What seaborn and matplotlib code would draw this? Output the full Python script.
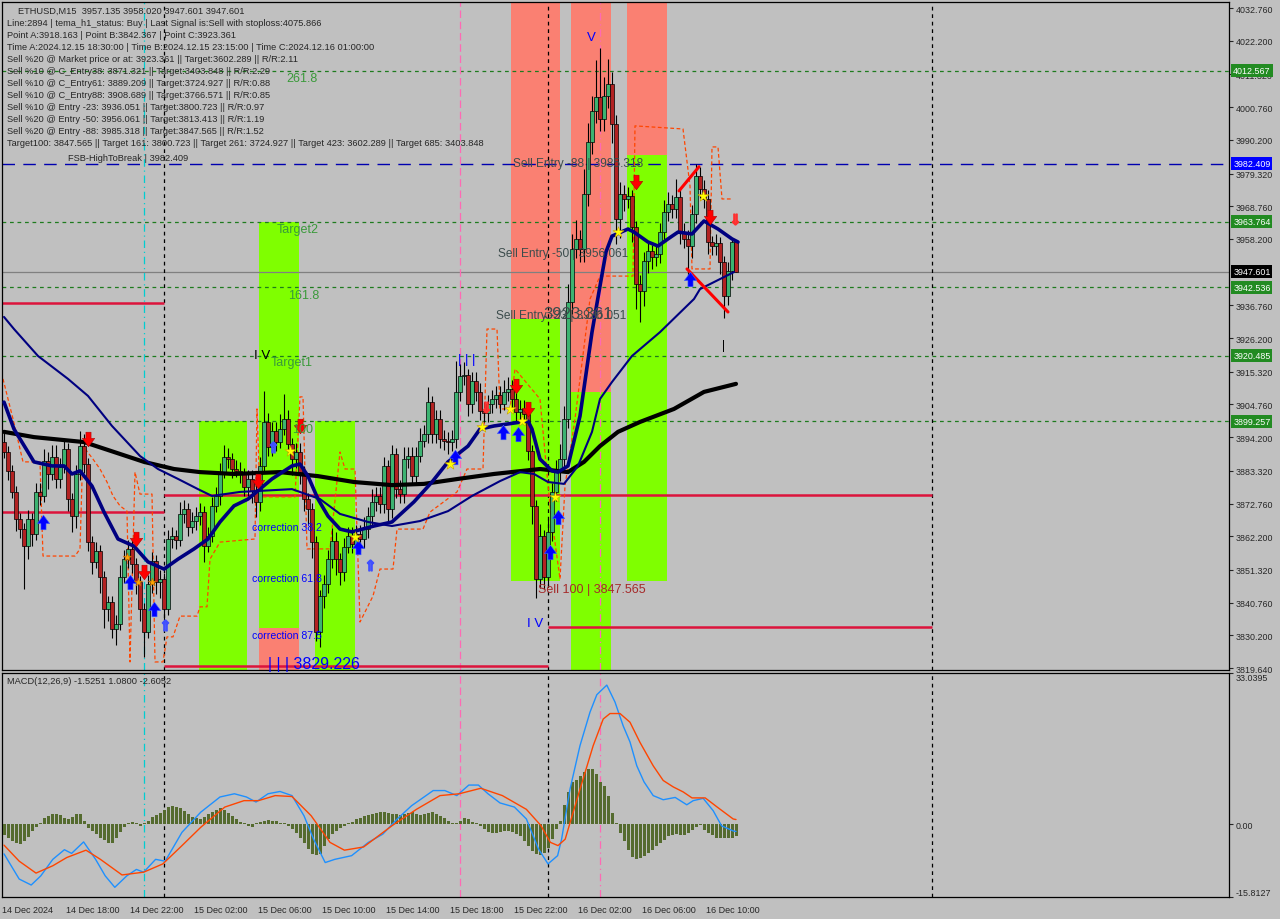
import numpy as np
import pandas as pd
import matplotlib
matplotlib.use("Agg")
import matplotlib.pyplot as plt
from matplotlib.patches import Rectangle
from matplotlib.path import Path
import seaborn as sns

sns.set_style("white")
plt.rcParams["font.family"] = ["Liberation Sans", "DejaVu Sans"]

BG = "#C0C0C0"

# ---------------- data ----------------
open0 = 3892.6
close = [3889.4, 3883.3, 3876.5, 3867.8, 3864.5, 3859.0, 3867.8, 3862.9, 3876.5, 3875.2,
         3886.5, 3882.3, 3887.8, 3880.7, 3884.6, 3890.4, 3874.2, 3868.7, 3882.3, 3891.3,
         3885.5, 3860.3, 3853.9, 3857.4, 3849.0, 3838.7, 3841.0, 3832.2, 3833.9, 3849.0,
         3854.8, 3858.1, 3853.2, 3847.4, 3838.7, 3831.3, 3846.8, 3854.2, 3847.4, 3848.4,
         3838.7, 3861.3, 3862.3, 3861.0, 3869.4, 3871.0, 3865.2, 3867.1, 3868.7, 3870.0,
         3859.0, 3862.3, 3872.0, 3875.2, 3882.9, 3887.8, 3887.1, 3883.9, 3883.3, 3882.3,
         3878.1, 3880.7, 3876.8, 3873.3, 3884.9, 3899.1, 3891.0, 3896.2, 3892.6, 3896.8,
         3900.1, 3892.0, 3887.1, 3889.4, 3882.9, 3874.2, 3871.0, 3860.3, 3831.3, 3842.9,
         3846.8, 3854.8, 3860.7, 3854.8, 3850.6, 3858.7, 3862.3, 3859.7, 3862.9, 3861.3,
         3864.5, 3868.7, 3873.3, 3875.2, 3872.6, 3884.9, 3871.0, 3888.8, 3877.5, 3875.8,
         3887.1, 3888.1, 3881.7, 3888.1, 3893.0, 3895.2, 3905.5, 3895.2, 3900.1, 3893.6,
         3893.0, 3892.6, 3893.6, 3908.8, 3913.9, 3914.3, 3904.9, 3912.3, 3908.8, 3902.6,
         3902.0, 3904.9, 3906.5, 3907.8, 3904.9, 3908.8, 3909.7, 3906.5, 3902.3, 3903.3,
         3901.7, 3889.7, 3872.0, 3848.4, 3862.3, 3849.0, 3863.6, 3876.5, 3882.9, 3887.1,
         3900.1, 3937.8, 3954.9, 3958.2, 3954.9, 3972.7, 3989.5, 3999.5, 4004.0, 3996.9,
         4004.4, 4008.2, 3995.3, 3964.6, 3972.7, 3971.1, 3972.1, 3962.1, 3943.6, 3941.4,
         3951.1, 3954.3, 3952.4, 3953.3, 3960.4, 3966.9, 3969.5, 3967.9, 3971.7, 3960.4,
         3958.2, 3955.9, 3966.3, 3978.5, 3974.3, 3971.1, 3957.2, 3955.9, 3956.9, 3950.8,
         3939.8, 3947.8, 3957.135, 3947.601]
wick_up = [3, 2, 2, 2, 2, 2, 3, 2, 3, 3, 4, 3, 4, 4, 3, 3, 2, 2, 3, 5,
           4, 2, 2, 3, 2, 2, 2, 2, 3, 4, 3, 3, 3, 2, 2, 2, 3, 3, 2, 3,
           2, 3, 3, 2, 4, 3, 2, 3, 3, 3, 2, 3, 3, 3, 3, 4, 3, 2, 3, 3,
           2, 3, 3, 2, 3, 10, 3, 3, 3, 5, 8, 3, 2, 3, 3, 2, 2, 2, 2, 2,
           3, 3, 4, 3, 2, 3, 3, 3, 3, 3, 4, 3, 4, 3, 3, 3, 2, 3, 2, 3,
           4, 3, 3, 3, 4, 3, 5, 2, 3, 3, 3, 3, 3, 10, 4, 4, 2, 3, 3, 3,
           3, 3, 3, 3, 3, 4, 4, 3, 3, 3, 3, 2, 2, 2, 4, 2, 4, 3, 4, 5,
           4, 6, 5, 6, 3, 8, 6, 5, 12, 16, 6, 8, 4, 3, 4, 3, 3, 2, 2, 3,
           3, 3, 2, 3, 3, 4, 4, 3, 6, 3, 3, 3, 3, 4, 3, 3, 3, 2, 3, 2,
           2, 3, 0.8, 0.4]
wick_dn = [2, 3, 2, 4, 3, 14, 4, 4, 2, 3, 2, 5, 2, 3, 3, 2, 4, 5, 4, 2,
           3, 3, 4, 2, 5, 6, 4, 3, 5, 2, 2, 3, 3, 4, 4, 8, 2, 3, 4, 5,
           5, 2, 3, 3, 2, 3, 3, 2, 3, 3, 5, 2, 2, 2, 3, 2, 3, 3, 2, 3,
           3, 3, 4, 5, 3, 2, 3, 3, 3, 2, 2, 3, 5, 3, 4, 4, 5, 5, 3, 5,
           4, 3, 3, 5, 4, 3, 2, 3, 3, 4, 3, 3, 3, 3, 3, 3, 4, 3, 3, 3,
           3, 3, 3, 3, 2, 2, 3, 3, 3, 3, 3, 4, 3, 3, 3, 3, 4, 3, 3, 3,
           3, 3, 3, 3, 3, 2, 3, 3, 3, 3, 3, 3, 6, 6, 3, 4, 3, 3, 3, 3,
           3, 3, 4, 3, 4, 4, 4, 4, 4, 4, 4, 4, 6, 8, 6, 4, 3, 5, 8, 10,
           5, 4, 4, 3, 3, 3, 3, 3, 3, 4, 3, 10, 4, 3, 3, 3, 4, 3, 3, 4,
           7, 3, 3, 0]

fast_i = [0, 2.5, 7.5, 12, 15, 17, 19, 22, 25, 28.5, 32.5, 36, 40, 43.5, 47.5, 51, 54, 57.5, 61, 67,
          72, 74, 76, 78.5, 81, 84, 87, 92.5, 97, 102.5, 107, 111, 116, 119, 122.5, 131, 132, 134, 137, 138.5,
          141, 144, 147, 149, 150.5, 152, 156, 157.5, 161, 163.5, 166, 168.5, 172, 175, 178.5, 182, 183.5]
fast_v = [3905.5, 3896.8, 3886.2, 3884.9, 3884.9, 3882.3, 3883.3, 3878.4, 3870.0, 3861.3,
          3859.0, 3853.9, 3851.6, 3854.8, 3858.1, 3861.3, 3866.8, 3872.0, 3874.2, 3880.7,
          3884.9, 3885.5, 3881.6, 3874.2, 3868.7, 3864.5, 3863.6, 3865.5, 3866.8, 3873.3,
          3879.7, 3886.2, 3891.3, 3896.8, 3897.8, 3899.4, 3896.8, 3887.1, 3883.3, 3882.9,
          3884.9, 3901.0, 3928.1, 3943.0, 3954.0, 3959.1, 3961.4, 3960.4, 3957.2, 3955.9,
          3958.2, 3960.4, 3959.8, 3964.0, 3961.4, 3958.2, 3957.2]
mid_i = [0, 2.5, 8.5, 16, 21, 27, 34, 38.5, 43.5, 48.5, 52, 59, 72, 79, 84, 91, 97, 104, 111, 117,
         124, 129, 132.5, 136, 140, 143.5, 147, 149, 152, 157, 164, 172.5, 174, 182.5]
mid_v = [3933.0, 3929.1, 3920.4, 3913.0, 3907.5, 3897.8, 3888.1, 3883.9, 3880.7, 3877.4,
         3875.2, 3876.5, 3877.4, 3874.2, 3869.4, 3866.8, 3865.5, 3867.1, 3870.3, 3875.2,
         3880.0, 3882.9, 3882.3, 3879.7, 3879.1, 3884.9, 3895.9, 3906.5, 3912.0, 3920.4,
         3928.1, 3938.8, 3942.0, 3947.5]
slow_i = [0, 7.5, 20, 27.5, 35, 42.5, 49, 57.5, 69, 78.5, 87.5, 97, 105, 113.5, 122.5, 134,
          141, 145, 149, 153.5, 159, 167.5, 175, 183]
slow_v = [3895.9, 3894.2, 3892.6, 3889.4, 3886.2, 3883.9, 3882.9, 3882.3, 3882.9, 3881.6,
          3879.7, 3878.7, 3879.1, 3880.7, 3882.3, 3883.9, 3882.9, 3886.2, 3891.3, 3895.9,
          3899.1, 3903.3, 3908.8, 3911.4]
orange_i = [-0.25, 2.25, 4.75, 9, 9.75, 17.75, 19, 19.75, 22.25, 24, 25.75, 27.25, 29, 30.75, 31.5,
            32.75, 34, 37, 37.75, 39.75, 40.75, 42.25, 44, 48.25, 49, 50.75, 51.5, 54, 62.75, 63.25,
            64, 72.75, 74, 74.75, 75.75, 81.5, 84, 85.25, 87.75, 89, 92.25, 94, 97.25, 98.25, 104.75,
            106.5, 113.25, 115.75, 119.75, 120.75, 123.25, 124, 126.5, 127.75, 134, 136.5, 139,
            140.25, 142.75, 146.5, 149, 157.25, 157.75, 169.75, 171.5, 172, 176.5, 177, 178.5,
            179.5, 182]
orange_v = [3913.0, 3900.1, 3886.2, 3886.2, 3855.8, 3855.8, 3858.1, 3891.3, 3887.1, 3883.9,
            3879.7, 3875.2, 3872.0, 3870.3, 3821.6, 3882.9, 3875.8, 3875.8, 3821.6, 3821.6,
            3829.7, 3829.7, 3836.4, 3836.4, 3839.4, 3839.4, 3854.8, 3860.3, 3861.3, 3903.3,
            3874.9, 3874.9, 3907.2, 3907.2, 3858.1, 3858.1, 3889.4, 3883.9, 3883.9, 3834.5,
            3842.9, 3851.6, 3851.6, 3864.5, 3864.5, 3870.0, 3876.5, 3883.9, 3883.9, 3929.1,
            3929.1, 3903.3, 3903.3, 3916.2, 3906.5, 3872.0, 3848.4, 3878.4, 3900.1, 3938.8,
            3946.2, 3946.2, 3994.7, 3993.7, 3975.3, 3948.5, 3948.5, 3987.9, 3987.9, 3971.1,
            3971.1]

hist = [-2.33, -3.05, -3.64, -4.00, -4.22, -3.64, -2.76, -1.45, -0.58, 0.36,
        1.31, 1.82, 2.18, 2.33, 2.04, 1.45, 1.09, 1.60, 2.18, 2.18,
        0.87, -0.73, -1.45, -2.18, -2.91, -3.49, -4.00, -4.00, -2.91, -1.60,
        -0.58, 0.22, 0.44, 0.36, -0.36, 0.36, 0.87, 1.60, 2.04, 2.54,
        3.27, 3.78, 4.07, 3.78, 3.49, 2.91, 2.18, 1.60, 1.31, 1.09,
        1.60, 2.18, 2.76, 3.27, 3.49, 3.27, 2.54, 1.82, 1.09, 0.58,
        0.22, -0.36, -0.58, 0.22, 0.58, 0.87, 1.02, 0.87, 0.73, 0.36,
        0.22, -0.36, -1.09, -1.82, -2.91, -4.00, -5.45, -6.40, -6.69, -6.40,
        -4.73, -3.27, -2.18, -1.31, -0.73, -0.22, 0.22, 0.58, 1.09, 1.45,
        1.82, 2.04, 2.33, 2.54, 2.76, 2.76, 2.54, 2.33, 2.18, 2.04,
        2.18, 2.54, 2.76, 2.33, 2.04, 2.18, 2.54, 2.76, 2.33, 1.82,
        1.31, 0.73, 0.36, 0.22, 0.87, 1.31, 1.09, 0.58, 0.22, -0.36,
        -1.09, -1.60, -1.82, -1.82, -1.60, -1.45, -1.45, -1.60, -2.04, -2.54,
        -3.64, -4.73, -5.82, -6.54, -6.69, -6.18, -5.09, -3.27, -1.09, 0.87,
        4.36, 7.12, 9.16, 9.60, 10.47, 11.49, 12.00, 12.00, 11.12, 9.31,
        8.29, 6.25, 2.40, 0.22, -1.75, -3.50, -5.50, -7.00, -7.60, -7.30,
        -6.90, -6.20, -5.50, -4.70, -4.00, -3.30, -2.60, -2.20, -2.00, -2.20,
        -2.20, -1.80, -1.10, -0.60, -0.20, -1.30, -1.80, -2.20, -2.90, -2.90,
        -2.90, -2.90, -2.90, -2.6052]
macd_i = [0, 3.8, 6.8, 9.2, 12.2, 15.1, 16.9, 19.9, 22.9, 25.3, 27.7, 30.7, 33.1, 34.9, 37.9, 40.3,
          44.5, 49.2, 54, 57.6, 60.6, 63, 66, 69, 72, 75, 77.4, 80.3, 82.7, 86.9, 91.1, 94.7, 98.3,
          101.9, 107.3, 110.2, 113.2, 116.2, 118.6, 121, 124, 127.6, 130.6, 133.6, 136, 138.4, 139.4,
          141.5, 144, 146.5, 148.2, 150.7, 152.75, 154.8, 156.5, 158.2, 160, 162.3, 164.8, 167.8,
          170.7, 172.3, 174.8, 177.3, 179.4, 182.3, 183]
macd_v = [-6.4, -11.9, -13.2, -11.2, -7.6, -5.5, -6.3, -3.8, -7.6, -11.2, -13.7, -11.2, -9.8, -10.4,
          -7.6, -8.0, -1.7, 2.7, 6.0, 6.7, 6.0, 4.9, 6.7, 7.2, 6.3, 1.9, -3.2, -8.3, -7.6, -6.8, -3.9,
          -2.1, 1.2, 4.1, 7.4, 7.4, 6.3, 8.6, 8.6, 6.7, 4.7, 3.8, 1.2, -5.3, -8.6, -6.8, -3.2,
          7.7, 17.2, 24.5, 28.3, 30.4, 26.7, 21.5, 18.0, 12.8, 9.3, 6.3, 5.4, 5.9,
          4.3, 5.2, 5.7, 3.0, -0.3, -1.4, -1.5251]
sig_i = [0, 3.8, 8, 12.2, 15.7, 20.5, 24.1, 29.5, 34.9, 39.7, 44.5, 49.2, 55.2, 60, 63.6, 67.8, 72,
         76.8, 81.5, 85.1, 89.9, 97.1, 103.1, 109, 113.8, 119.2, 124.6, 130.6, 134.2, 136.6, 138.5,
         140.3, 144, 147.3, 149.8, 151.5, 154, 156.5, 159, 162.3, 164.8, 167.3, 169.8, 172, 175.3,
         178.3, 182.3, 183]
sig_v = [-4.5, -8.0, -10.6, -9.0, -7.2, -5.6, -7.6, -11.0, -10.4, -8.6, -4.6, -0.6, 3.8, 5.2, 5.2,
         6.3, 6.1, 1.9, -3.9, -5.6, -4.9, -0.2, 3.3, 6.3, 6.7, 7.9, 6.3, 3.3, -0.2, -3.9, -4.6,
         -3.2, 7.7, 17.2, 23.0, 24.2, 24.2, 22.3, 17.9, 12.8, 9.6, 8.2, 7.1, 5.8, 5.8,
         3.8, 1.2, 1.08]

sell_arrow_i = [21, 33, 35, 63.5, 74, 128, 131, 158, 176.5]
sell_arrow_p = [3893.6, 3861.3, 3850.6, 3880.0, 3897.8, 3910.7, 3903.3, 3976.6, 3965.3]
buy_arrow_i = [9.75, 31.5, 37.5, 88.5, 112.75, 124.75, 128.5, 136.5, 138.5, 171.5]
buy_arrow_p = [3866.8, 3847.4, 3838.7, 3858.7, 3887.8, 3895.9, 3895.2, 3857.1, 3868.4, 3945.3]
star_i = [71.5, 87.75, 111.5, 119.5, 126.5, 129.5, 137.75, 153.5, 174.75]
star_p = [3889.7, 3861.9, 3885.5, 3897.5, 3903.3, 3899.4, 3874.9, 3960.4, 3972.1]
ostar_i = [30.75, 33.5, 37]
ostar_p = [3855.4, 3847.4, 3847.4]

level_green = [4012.567, 3963.764, 3942.536, 3920.485, 3899.257]
level_fsb = 3982.409
last_price = 3947.601
red_levels = [(-0.5, 40, 3937.5), (-0.5, 40, 3870.0), (40, 232, 3875.5),
              (40, 136, 3820.3), (136, 232, 3832.9)]

price_ticks = [4032.760, 4022.200, 4011.320, 4000.760, 3990.200, 3979.320, 3968.760, 3958.200,
               3936.760, 3926.200, 3915.320, 3904.760, 3894.200, 3883.320, 3872.760, 3862.200,
               3851.320, 3840.760, 3830.200, 3819.640]
time_labels = ["14 Dec 2024", "14 Dec 18:00", "14 Dec 22:00", "15 Dec 02:00", "15 Dec 06:00",
               "15 Dec 10:00", "15 Dec 14:00", "15 Dec 18:00", "15 Dec 22:00", "16 Dec 02:00",
               "16 Dec 06:00", "16 Dec 10:00"]

info_lines = [
    "Line:2894 | tema_h1_status: Buy | Last Signal is:Sell with stoploss:4075.866",
    "Point A:3918.163 | Point B:3842.367 | Point C:3923.361",
    "Time A:2024.12.15 18:30:00 | Time B:2024.12.15 23:15:00 | Time C:2024.12.16 01:00:00",
    "Sell %20 @ Market price or at: 3923.361 || Target:3602.289 || R/R:2.11",
    "Sell %10 @ C_Entry38: 3871.321 || Target:3403.848 || R/R:2.29",
    "Sell %10 @ C_Entry61: 3889.209 || Target:3724.927 || R/R:0.88",
    "Sell %10 @ C_Entry88: 3908.689 || Target:3766.571 || R/R:0.85",
    "Sell %10 @ Entry -23: 3936.051 || Target:3800.723 || R/R:0.97",
    "Sell %20 @ Entry -50: 3956.061 || Target:3813.413 || R/R:1.19",
    "Sell %20 @ Entry -88: 3985.318 || Target:3847.565 || R/R:1.52",
    "Target100: 3847.565 || Target 161: 3800.723 || Target 261: 3724.927 || Target 423: 3602.289 || Target 685: 3403.848",
]

# ---------------- figure ----------------
W, H = 1280, 920
fig = plt.figure(figsize=(12.8, 9.2), dpi=100, facecolor=BG)
ax = fig.add_axes([2 / W, 1 - 671 / H, 1227 / W, 668 / H], facecolor=BG)
ax2 = fig.add_axes([2 / W, 1 - 898 / H, 1227 / W, 224 / H], facecolor=BG)
XMIN, XMAX = -0.5, 306.25
YMIN, YMAX = 3819.0, 4034.7
ax.set_xlim(XMIN, XMAX)
ax.set_ylim(YMIN, YMAX)
ax2.set_xlim(XMIN, XMAX)
ax2.set_ylim(-15.8127, 33.0395)

n = len(close)
idx = np.arange(n)
c = np.array(close)
o = np.array([open0] + close[:-1])
hi = np.maximum(o, c) + np.array(wick_up)
lo = np.minimum(o, c) - np.array(wick_dn)

GREEN_BAND = "#7FFF00"
SALMON = "#FA8072"
bands = [
    (48.75, 60.75, 3899.3, YMIN, GREEN_BAND),
    (63.75, 73.75, 3963.8, 3832.6, GREEN_BAND),
    (63.75, 73.75, 3832.6, YMIN, SALMON),
    (77.75, 87.75, 3899.3, YMIN, GREEN_BAND),
    (126.75, 139.0, YMAX, 3932.3, SALMON),
    (126.75, 139.0, 3932.3, 3847.6, GREEN_BAND),
    (141.75, 151.75, YMAX, 3908.8, SALMON),
    (141.75, 151.75, 3908.8, YMIN, GREEN_BAND),
    (155.75, 165.75, YMAX, 3985.3, SALMON),
    (155.75, 165.75, 3985.3, 3847.6, GREEN_BAND),
]
for x0, x1, ytop, ybot, col in bands:
    ax.add_patch(Rectangle((x0, ybot), x1 - x0, ytop - ybot, facecolor=col, edgecolor="none", zorder=0.5))

# horizontal levels
for lv in level_green:
    ax.axhline(lv, color="#1E7B1E", lw=0.9, ls=(0, (3, 3)), zorder=1)
ax.axhline(level_fsb, color="#0000B0", lw=1.0, ls=(0, (9, 6)), zorder=1)
ax.axhline(last_price, color="#808080", lw=0.9, zorder=1)
for x0, x1, lv in red_levels:
    ax.hlines(lv, x0, x1, color="#DC143C", lw=1.8, zorder=1.2)

# vertical lines
for a in (ax, ax2):
    a.axvline(35, color="#00CED1", lw=0.9, ls=(0, (6, 3, 1, 3)), zorder=1)
    a.axvline(40, color="black", lw=0.9, ls=(0, (3, 3)), zorder=1)
    a.axvline(114, color="#FF69B4", lw=0.9, ls=(0, (6, 3)), zorder=1)
    a.axvline(136, color="black", lw=0.9, ls=(0, (3, 3)), zorder=1)
    a.axvline(149, color="#FF69B4", lw=0.9, ls=(0, (6, 3, 1, 3)), zorder=1)
    a.axvline(232, color="black", lw=0.9, ls=(0, (3, 3)), zorder=1)

# orange dashed trailing line
sns.lineplot(x=orange_i, y=orange_v, ax=ax, color="#FF4500", lw=0.9, estimator=None,
             sort=False, legend=False, zorder=2)
ax.lines[-1].set_linestyle((0, (3, 2)))

# candles
ax.vlines(idx, lo, hi, color="black", lw=0.8, zorder=3)
up = c >= o
body_h = np.maximum(np.abs(c - o), 0.35)
ax.bar(idx, body_h, bottom=np.minimum(o, c), width=0.78,
       color=np.where(up, "#3CB371", "#B22222"), edgecolor="black", linewidth=0.5, zorder=4)

# moving averages
sns.lineplot(x=slow_i, y=slow_v, ax=ax, color="black", lw=3.0, estimator=None, legend=False, zorder=5)
sns.lineplot(x=mid_i, y=mid_v, ax=ax, color="#000080", lw=1.5, estimator=None, legend=False, zorder=5)
sns.lineplot(x=fast_i, y=fast_v, ax=ax, color="#000080", lw=2.6, estimator=None, legend=False, zorder=5)

# red pattern lines
ax.plot([168.75, 173.75], [3973.7, 3981.5], color="red", lw=2.2, zorder=5.5)
ax.plot([170.75, 181.0], [3948.5, 3934.6], color="red", lw=2.2, zorder=5.5)

# arrows / markers
down_arrow = Path([(-0.35, 1), (0.35, 1), (0.35, 0.15), (0.85, 0.15), (0, -1), (-0.85, 0.15),
                   (-0.35, 0.15), (-0.35, 1)], closed=True)
up_arrow = Path([(-0.35, -1), (0.35, -1), (0.35, -0.15), (0.85, -0.15), (0, 1), (-0.85, -0.15),
                 (-0.35, -0.15), (-0.35, -1)], closed=True)
ax.scatter(sell_arrow_i, sell_arrow_p, marker=down_arrow, s=110, color="#FF0000", edgecolor="#B00000",
           linewidth=0.4, zorder=6)
ax.scatter(buy_arrow_i, buy_arrow_p, marker=up_arrow, s=110, color="#0000FF", edgecolor="#4060FF",
           linewidth=0.4, zorder=6)
ax.scatter(star_i, star_p, marker="*", s=70, color="#FFFF00", edgecolor="#C8A000", linewidth=0.4, zorder=6)
ax.scatter(ostar_i, ostar_p, marker="*", s=40, color="#FFA500", edgecolor="#C06000", linewidth=0.4, zorder=6)
ax.scatter([40.25, 91.5, 67.25], [3833.5, 3852.9, 3891.0], marker=r"$\Uparrow$", s=60, color="#4050FF",
           zorder=6)
ax.scatter([120.5, 182.75], [3903.9, 3964.6], marker=r"$\Downarrow$", s=60, color="#FF3030", zorder=6)

# chart texts
txt_green = "#3A9A3A"
for s, xi, yp in [("261.8", 70.5, 4010.2), ("Target2", 68.25, 3961.4), ("161.8", 71, 3940.1),
                  ("Target1", 66.75, 3918.5), ("100", 72.0, 3896.8)]:
    ax.text(xi, yp, s, color=txt_green, fontsize=9, va="center", ha="left", zorder=7)
ax.text(62.5, 3920.7, "I V", color="black", fontsize=9.5, va="center", ha="left", zorder=7)
grey_t = "#3C4C4C"
ax.text(127.25, 3982.7, "Sell Entry -88 | 3985.318", color=grey_t, fontsize=8.6, va="center", ha="left", zorder=7)
ax.text(123.5, 3953.7, "Sell Entry -50 | 3956.061", color=grey_t, fontsize=8.6, va="center", ha="left", zorder=7)
ax.text(123.0, 3933.6, "Sell Entry -23 | 3936.051", color=grey_t, fontsize=8.6, va="center", ha="left", zorder=7)
ax.text(134.75, 3934.2, "3923.361", color=grey_t, fontsize=12, va="center", ha="left", zorder=7)
ax.text(133.5, 3845.2, "Sell 100 | 3847.565", color="#A52A2A", fontsize=9, va="center", ha="left", zorder=7)
for s, yp in [("correction 38.2", 3865.2), ("correction 61.8", 3848.7), ("correction 87.5", 3830.3)]:
    ax.text(62.0, yp, s, color="#0000FF", fontsize=7.6, va="center", ha="left", zorder=7)
ax.text(66.0, 3821.2, "| | | 3829.226", color="#0000FF", fontsize=11.5, va="center", ha="left", zorder=7)
ax.text(145.75, 4023.4, "V", color="#0000FF", fontsize=9.5, va="center", ha="left", zorder=7)
ax.text(130.75, 3834.2, "I V", color="#0000FF", fontsize=9.5, va="center", ha="left", zorder=7)
ax.text(113.5, 3919.4, "| | |", color="#0000FF", fontsize=9.5, va="center", ha="left", zorder=7)
ax.text(179.5, 3923.9, "|", color="black", fontsize=8.5, va="center", ha="left", zorder=7)

# info text block
def fx(px):
    return px / W


def fy(py):
    return 1 - py / H


fig.text(fx(18), fy(11), "ETHUSD,M15  3957.135 3958.020 3947.601 3947.601", fontsize=6.7, va="center")
for k, line in enumerate(info_lines):
    fig.text(fx(7), fy(24 + 12 * k), line, fontsize=6.7, va="center")
fig.text(fx(68), fy(159), "FSB-HighToBreak | 3982.409", fontsize=6.7, va="center")

# right price axis
ax.yaxis.tick_right()
ax.set_yticks(price_ticks)
ax.set_yticklabels([f"{v:.3f}" for v in price_ticks])
ax.tick_params(axis="y", direction="out", length=3, width=0.8, labelsize=6.4, pad=2)
ax.set_xticks([])
for lv, col in [(4012.567, "#228B22"), (3982.409, "#0000FF"), (3963.764, "#228B22"),
                (last_price, "#000000"), (3942.536, "#228B22"), (3920.485, "#228B22"),
                (3899.257, "#228B22")]:
    ax.annotate(f"{lv:.3f}", xy=(1.0, lv), xycoords=("axes fraction", "data"), xytext=(3, 0),
                textcoords="offset points", ha="left", va="center", fontsize=6.4, color="white",
                bbox=dict(boxstyle="square,pad=0.22", fc=col, ec="none"), annotation_clip=False, zorder=10)

# MACD panel
ax2.bar(idx, hist, width=0.75, color="#556B2F", edgecolor="none", linewidth=0, zorder=3)
sns.lineplot(x=macd_i, y=macd_v, ax=ax2, color="#1E90FF", lw=1.0, estimator=None, legend=False, zorder=4)
sns.lineplot(x=sig_i, y=sig_v, ax=ax2, color="#FF4500", lw=1.0, estimator=None, legend=False, zorder=4)
ax2.text(5 / 1227, 0.985, "MACD(12,26,9) -1.5251 1.0800 -2.6052", transform=ax2.transAxes,
         fontsize=6.7, va="top", ha="left")
ax2.yaxis.tick_right()
ax2.set_yticks([33.0395, 0.0, -15.8127])
ax2.set_yticklabels(["33.0395", "0.00", "-15.8127"])
ax2.tick_params(axis="y", direction="out", length=3, width=0.8, labelsize=6.4, pad=2)
yl = ax2.get_yticklabels()
yl[0].set_va("top")
yl[2].set_va("bottom")
ax2.set_xticks([-0.4 + 16 * k for k in range(len(time_labels))])
ax2.set_xticklabels(time_labels)
ax2.tick_params(axis="x", direction="out", length=3, width=0.8, labelsize=6.5, pad=3)
for lbl in ax2.get_xticklabels():
    lbl.set_ha("left")

for a in (ax, ax2):
    a.set_xlabel("")
    a.set_ylabel("")
    for sp in a.spines.values():
        sp.set_color("black")
        sp.set_linewidth(0.9)
        sp.set_visible(True)

fig.savefig("out.png", dpi=100, facecolor=BG)
